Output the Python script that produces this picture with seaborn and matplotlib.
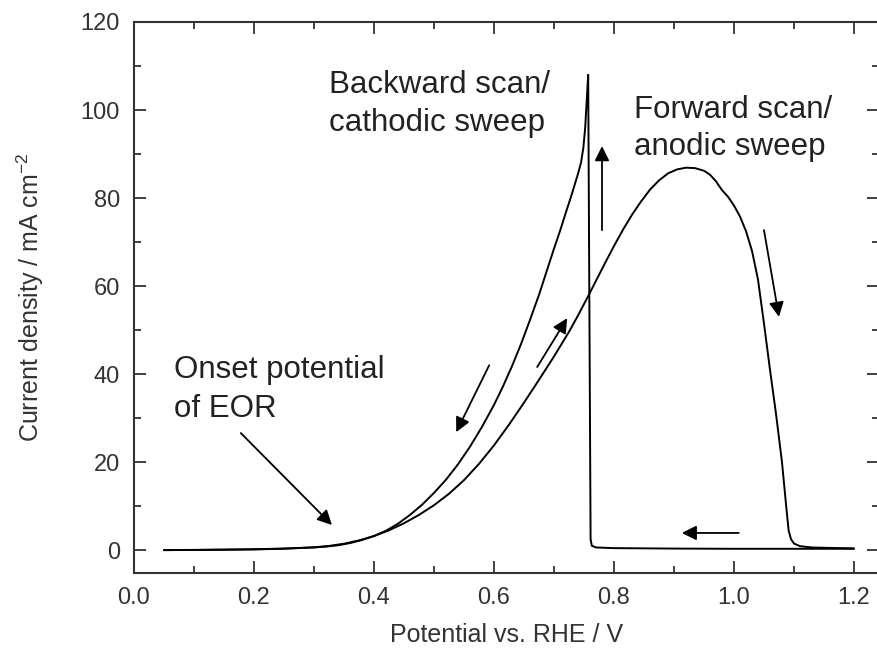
import matplotlib
matplotlib.use("Agg")
import matplotlib.pyplot as plt
import seaborn as sns
import pandas as pd
from matplotlib.ticker import MultipleLocator

# Cyclic voltammogram of ethanol oxidation: forward (anodic) and backward (cathodic) sweeps
forward_potential = [0.05, 0.10, 0.15, 0.20, 0.25, 0.30, 0.325, 0.35, 0.375, 0.40,
                     0.425, 0.45, 0.475, 0.50, 0.525, 0.55, 0.575, 0.60, 0.625, 0.65,
                     0.675, 0.70, 0.725, 0.74, 0.755, 0.77, 0.785, 0.80, 0.815, 0.83,
                     0.845, 0.86, 0.875, 0.89, 0.905, 0.92, 0.935, 0.95, 0.96, 0.97,
                     0.98, 0.99, 1.00, 1.01, 1.02, 1.03, 1.04, 1.05, 1.06, 1.07,
                     1.08, 1.087, 1.091, 1.095, 1.10, 1.11, 1.13, 1.16, 1.20]
forward_current = [0.0, 0.03, 0.08, 0.15, 0.32, 0.65, 0.95, 1.45, 2.2, 3.2,
                   4.5, 6.1, 8.0, 10.2, 12.8, 15.9, 19.6, 23.8, 28.5, 33.5,
                   38.7, 44.0, 49.6, 53.3, 57.2, 61.2, 65.2, 69.1, 72.8, 76.2,
                   79.2, 81.9, 84.0, 85.6, 86.5, 86.9, 86.8, 86.2, 85.3, 83.8,
                   81.8, 80.3, 78.3, 75.8, 72.5, 68.0, 61.5, 51.5, 41.0, 31.0,
                   20.0, 10.0, 4.5, 2.5, 1.5, 0.9, 0.6, 0.5, 0.4]

backward_potential = [1.20, 1.10, 1.00, 0.90, 0.80, 0.77, 0.763, 0.761, 0.757, 0.7545,
                      0.752, 0.749, 0.745, 0.74, 0.73, 0.72, 0.71, 0.70, 0.69, 0.675,
                      0.66, 0.645, 0.63, 0.615, 0.60, 0.58, 0.56, 0.54, 0.52, 0.50,
                      0.48, 0.46, 0.44, 0.42, 0.40, 0.38, 0.36, 0.34, 0.32, 0.30,
                      0.25, 0.20, 0.10, 0.05]
backward_current = [0.3, 0.3, 0.3, 0.35, 0.45, 0.6, 1.0, 2.5, 108.0, 102.0,
                    96.0, 91.5, 88.0, 85.5, 81.0, 76.8, 72.5, 68.5, 64.3, 58.0,
                    52.3, 46.8, 41.8, 37.2, 33.0, 28.0, 23.5, 19.5, 16.0, 13.0,
                    10.3, 8.0, 6.0, 4.4, 3.2, 2.3, 1.6, 1.1, 0.8, 0.6,
                    0.35, 0.2, 0.05, 0.0]

x_ticks = [0.0, 0.2, 0.4, 0.6, 0.8, 1.0, 1.2]
y_ticks = [0, 20, 40, 60, 80, 100, 120]

df = pd.concat([
    pd.DataFrame({"potential": forward_potential, "current": forward_current, "scan": "forward"}),
    pd.DataFrame({"potential": backward_potential, "current": backward_current, "scan": "backward"}),
], ignore_index=True)

sns.set_theme(style="ticks")
plt.rcParams["font.family"] = ["Liberation Sans", "DejaVu Sans"]
plt.rcParams["mathtext.fontset"] = "custom"
plt.rcParams["mathtext.rm"] = "Liberation Sans"
plt.rcParams["mathtext.it"] = "Liberation Sans"

fig = plt.figure(figsize=(8.78, 6.55), dpi=100)
ax = fig.add_axes([134 / 878, 82 / 655, 745 / 878, 551 / 655])

sns.lineplot(data=df, x="potential", y="current", hue="scan", sort=False,
             estimator=None, palette={"forward": "black", "backward": "black"},
             linewidth=1.4, legend=False, ax=ax)

ax.set_xlim(0.0, 1.2417)
ax.set_ylim(-5.2, 120)
ax.set_xticks(x_ticks)
ax.set_yticks(y_ticks)
ax.set_xticklabels([f"{v:.1f}" for v in x_ticks])
ax.set_yticklabels([str(v) for v in y_ticks])
ax.xaxis.set_minor_locator(MultipleLocator(0.1))
ax.yaxis.set_minor_locator(MultipleLocator(10))

ax.tick_params(which="both", direction="in", top=True, right=True, width=1.3,
               color="#333333", labelsize=17, labelcolor="#333333")
ax.tick_params(which="major", length=8.5, pad=10)
ax.tick_params(which="minor", length=5)
for s in ax.spines.values():
    s.set_linewidth(1.5)
    s.set_color("#333333")

ax.set_xlabel("Potential vs. RHE / V", fontsize=18, color="#333333", labelpad=10)
ax.set_ylabel("Current density / mA cm$^{-2}$", fontsize=18, color="#333333", labelpad=25)

# Text annotations
txt = dict(fontsize=22.5, color="#222222", ha="left", va="baseline")
ax.text(0.325, 103.9, "Backward scan/", **txt)
ax.text(0.325, 95.2, "cathodic sweep", **txt)
ax.text(0.833, 98.2, "Forward scan/", **txt)
ax.text(0.833, 89.8, "anodic sweep", **txt)
ax.text(0.067, 39.1, "Onset potential", **txt)
ax.text(0.067, 30.2, "of EOR", **txt)

# Scan-direction arrows
arrow = dict(arrowstyle="-|>", color="black", lw=1.3, mutation_scale=22, shrinkA=0, shrinkB=0)
for tail, head in [((0.178, 26.6), (0.330, 5.7)),
                   ((0.592, 42.0), (0.537, 26.8)),
                   ((0.672, 41.6), (0.722, 52.7)),
                   ((0.780, 72.7), (0.780, 91.8)),
                   ((1.050, 72.7), (1.075, 53.0)),
                   ((1.008, 3.9), (0.913, 3.9))]:
    ax.annotate("", xy=head, xytext=tail, arrowprops=arrow)

fig.savefig("out.png", dpi=100)
